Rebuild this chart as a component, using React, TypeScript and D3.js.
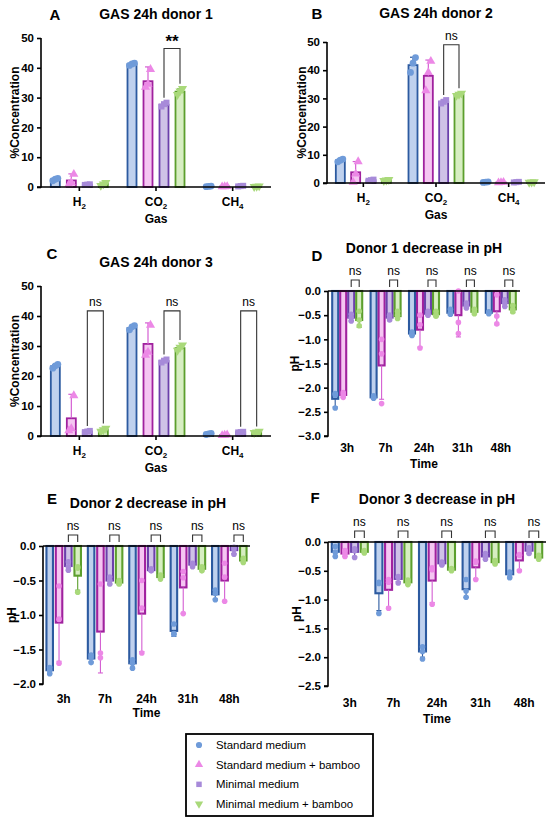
import { useEffect, useRef } from 'react';
import * as d3 from 'd3';

// ---- data ----
const SERIES = ['Standard medium', 'Standard medium + bamboo', 'Minimal medium', 'Minimal medium + bamboo'];
const STROKE = ['#2c5aa0', '#a0219e', '#6b3fab', '#5c9f2d'];
const FILL = ['#bfd1ee', '#f5c6f2', '#cfc2e7', '#d7eec2'];
const POINT = ['#6f9bd9', '#ec88e6', '#a78ad9', '#a9d97a'];
const ERR = ['#2c5aa0', '#d45ed2', '#6b3fab', '#5c9f2d'];

const GASES = ['H2', 'CO2', 'CH4'];
const GAS_TICKS = [0, 10, 20, 30, 40, 50];
const TIMES = ['3h', '7h', '24h', '31h', '48h'];

// gas panels: [series][gas]
const GAS1_MEAN = [[2.5, 41.2, 0.2], [2.2, 35.5, 0.15], [0.8, 27.6, 0.3], [1.0, 32.0, 0.2]];
const GAS1_SD = [[0.4, 0.4, 0.05], [2.2, 4.8, 0.05], [0.1, 0.6, 0.05], [0.5, 0.9, 0.05]];
const GAS1_PTS = [
  [[2.1, 2.6, 2.9], [40.8, 41.3, 41.6], [0.1, 0.2, 0.3]],
  [[0.8, 1.5, 4.3], [33.5, 34.5, 39.5], [0.1, 0.15, 0.2]],
  [[0.7, 0.8, 0.9], [27.0, 27.8, 28.3], [0.2, 0.3, 0.4]],
  [[0.5, 1.0, 1.5], [31.0, 32.2, 33.0], [0.1, 0.2, 0.3]],
];
const GAS1_SIG = [{ gas: 'CO2', a: 2, b: 3, top: 46.5, label: '**' }];

const GAS2_MEAN = [[8.0, 41.8, 0.3], [3.8, 38.0, 0.2], [1.0, 28.8, 0.3], [1.0, 31.4, 0.3]];
const GAS2_SD = [[0.5, 2.8, 0.05], [3.8, 5.6, 0.05], [0.2, 0.6, 0.05], [0.2, 0.4, 0.05]];
const GAS2_PTS = [
  [[7.5, 8.1, 8.5], [39.2, 42.5, 44.5], [0.2, 0.3, 0.4]],
  [[0.3, 3.2, 7.6], [32.8, 39.2, 43.2], [0.1, 0.2, 0.3]],
  [[0.8, 1.0, 1.2], [28.2, 28.8, 29.4], [0.2, 0.3, 0.4]],
  [[0.8, 1.0, 1.2], [31.0, 31.4, 31.8], [0.2, 0.3, 0.4]],
];
const GAS2_SIG = [{ gas: 'CO2', a: 2, b: 3, top: 49.0, label: 'ns' }];

const GAS3_MEAN = [[23.2, 36.0, 0.7], [5.9, 30.7, 0.3], [1.5, 25.0, 1.3], [2.0, 29.3, 1.3]];
const GAS3_SD = [[0.6, 0.6, 0.2], [8.0, 7.0, 0.1], [0.2, 0.5, 0.1], [0.5, 0.8, 0.2]];
const GAS3_PTS = [
  [[22.6, 23.4, 23.9], [35.4, 36.4, 36.8], [0.5, 0.7, 0.9]],
  [[1.8, 2.5, 13.5], [27.0, 28.0, 37.0], [0.2, 0.3, 0.4]],
  [[1.3, 1.5, 1.7], [24.5, 25.1, 25.5], [1.2, 1.3, 1.4]],
  [[1.5, 2.0, 2.5], [28.5, 29.5, 30.3], [1.1, 1.3, 1.5]],
];
const GAS3_SIG = [
  { gas: 'H2', a: 2, b: 3, top: 41.7, label: 'ns' },
  { gas: 'CO2', a: 2, b: 3, top: 41.7, label: 'ns' },
  { gas: 'CH4', a: 2, b: 3, top: 41.7, label: 'ns' },
];

// pH panels: [series][time]
const PH1_MEAN = [
  [-2.23, -2.2, -0.88, -0.45, -0.45],
  [-2.15, -1.54, -0.8, -0.5, -0.42],
  [-0.55, -0.55, -0.47, -0.3, -0.25],
  [-0.6, -0.52, -0.48, -0.43, -0.38],
];
const PH1_SD = [
  [0.17, 0.03, 0.04, 0.05, 0.02],
  [0.05, 0.7, 0.36, 0.45, 0.28],
  [0.07, 0.05, 0.04, 0.05, 0.07],
  [0.15, 0.07, 0.05, 0.05, 0.07],
];
const PH1_PTS = [
  [[-2.12, -2.15, -2.42], [-2.17, -2.2, -2.22], [-0.85, -0.9, -0.92], [-0.38, -0.45, -0.48], [-0.43, -0.45, -0.47]],
  [[-2.1, -2.15, -2.2], [-1.0, -1.3, -2.33], [-0.5, -0.7, -1.18], [0.0, -0.65, -0.88], [-0.08, -0.52, -0.68]],
  [[-0.48, -0.55, -0.62], [-0.5, -0.55, -0.6], [-0.42, -0.47, -0.5], [-0.25, -0.3, -0.35], [-0.18, -0.25, -0.32]],
  [[-0.42, -0.6, -0.72], [-0.42, -0.5, -0.57], [-0.42, -0.48, -0.52], [-0.38, -0.43, -0.47], [-0.3, -0.38, -0.43]],
];

const PH2_MEAN = [
  [-1.8, -1.63, -1.7, -1.23, -0.7],
  [-1.11, -1.24, -0.98, -0.6, -0.5],
  [-0.29, -0.5, -0.35, -0.27, -0.06],
  [-0.43, -0.53, -0.45, -0.33, -0.21],
];
const PH2_SD = [
  [0.05, 0.05, 0.06, 0.08, 0.07],
  [0.56, 0.6, 0.55, 0.38, 0.3],
  [0.06, 0.05, 0.02, 0.03, 0.05],
  [0.21, 0.03, 0.03, 0.03, 0.03],
];
const PH2_PTS = [
  [[-1.76, -1.8, -1.85], [-1.58, -1.62, -1.69], [-1.65, -1.7, -1.77], [-1.13, -1.27, -1.28], [-0.64, -0.69, -0.78]],
  [[-0.58, -1.06, -1.7], [-0.55, -1.55, -1.62], [-0.5, -0.9, -1.55], [-0.37, -0.46, -0.98], [-0.25, -0.45, -0.8]],
  [[-0.23, -0.3, -0.35], [-0.45, -0.5, -0.55], [-0.33, -0.35, -0.36], [-0.25, -0.27, -0.3], [-0.02, -0.05, -0.12]],
  [[-0.3, -0.32, -0.67], [-0.5, -0.53, -0.55], [-0.42, -0.45, -0.48], [-0.3, -0.33, -0.36], [-0.18, -0.2, -0.24]],
];

const PH3_MEAN = [
  [-0.17, -0.89, -1.9, -0.82, -0.56],
  [-0.2, -0.83, -0.67, -0.44, -0.32],
  [-0.17, -0.64, -0.37, -0.25, -0.15],
  [-0.17, -0.7, -0.48, -0.35, -0.27],
];
const PH3_SD = [
  [0.08, 0.3, 0.1, 0.14, 0.05],
  [0.05, 0.3, 0.38, 0.2, 0.16],
  [0.08, 0.05, 0.03, 0.05, 0.05],
  [0.02, 0.04, 0.02, 0.03, 0.03],
];
const PH3_PTS = [
  [[-0.08, -0.18, -0.25], [-0.7, -0.72, -1.24], [-1.82, -1.9, -2.03], [-0.65, -0.85, -0.96], [-0.52, -0.55, -0.62]],
  [[-0.15, -0.2, -0.25], [-0.65, -0.7, -1.15], [-0.45, -0.48, -1.08], [-0.33, -0.35, -0.65], [-0.22, -0.23, -0.5]],
  [[-0.12, -0.15, -0.27], [-0.6, -0.62, -0.71], [-0.35, -0.38, -0.4], [-0.2, -0.25, -0.3], [-0.1, -0.15, -0.2]],
  [[-0.15, -0.17, -0.19], [-0.66, -0.7, -0.74], [-0.46, -0.48, -0.5], [-0.32, -0.35, -0.38], [-0.23, -0.27, -0.3]],
];
const PH_SIG = ['ns', 'ns', 'ns', 'ns', 'ns'];

const FONT = '"Liberation Sans", Arial, Helvetica, sans-serif';
type Sel = d3.Selection<SVGGElement, unknown, null, undefined>;

function markerPath(i: number, size: number) {
  const types = [d3.symbolCircle, d3.symbolTriangle, d3.symbolSquare, d3.symbolTriangle];
  return d3.symbol().type(types[i]).size(size)() as string;
}

function text(g: Sel, x: number, y: number, s: string, size: number, bold = true, anchor = 'middle') {
  return g.append('text').attr('x', x).attr('y', y).attr('text-anchor', anchor)
    .attr('dominant-baseline', 'central').attr('font-family', FONT)
    .attr('font-size', size).attr('font-weight', bold ? 'bold' : 'normal').attr('fill', '#000').text(s);
}

function subLabel(g: Sel, x: number, y: number, s: string) {
  const m = s.match(/^([A-Z]+)(\d)$/);
  const t = g.append('text').attr('x', x).attr('y', y).attr('text-anchor', 'middle')
    .attr('dominant-baseline', 'central').attr('font-family', FONT)
    .attr('font-size', 12).attr('font-weight', 'bold');
  t.append('tspan').text(m ? m[1] : s);
  if (m) t.append('tspan').attr('dy', 4).attr('font-size', 8).text(m[2]);
}

interface GasCfg {
  xa: number; xb: number; y0: number; y50: number; spread: number; barW: number;
  letter: string; lx: number; ly: number; title: string; tx: number; ty: number; ylx: number;
}

function drawGas(g: Sel, c: GasCfg, mean: number[][], sd: number[][], pts: number[][][], sig: any[]) {
  const y = d3.scaleLinear().domain([0, 50]).range([c.y0, c.y50]);
  const x = d3.scaleBand<string>().domain(GASES).range([c.xa, c.xb]);
  const xs = d3.scalePoint<number>().domain([0, 1, 2, 3]).range([-c.spread, c.spread]);
  const cx = (gas: string, s: number) => (x(gas) as number) + x.bandwidth() / 2 + (xs(s) as number);

  text(g, c.lx, c.ly, c.letter, 15);
  text(g, c.tx, c.ty, c.title, 14);

  SERIES.forEach((_, s) => {
    GASES.forEach((gas, gi) => {
      const m = mean[s][gi];
      const px = cx(gas, s);
      g.append('rect').attr('x', px - c.barW / 2).attr('y', y(m)).attr('width', c.barW)
        .attr('height', y(0) - y(m)).attr('fill', FILL[s]).attr('stroke', STROKE[s]).attr('stroke-width', 1.8);
      const e = y(m + sd[s][gi]);
      g.append('line').attr('x1', px).attr('x2', px).attr('y1', y(m)).attr('y2', e)
        .attr('stroke', ERR[s]).attr('stroke-width', 1.2);
      g.append('line').attr('x1', px - 3).attr('x2', px + 3).attr('y1', e).attr('y2', e)
        .attr('stroke', ERR[s]).attr('stroke-width', 1.2);
    });
  });
  SERIES.forEach((_, s) => {
    GASES.forEach((gas, gi) => {
      const px = cx(gas, s);
      pts[s][gi].forEach((v, k) => {
        g.append('path').attr('d', markerPath(s, 36))
          .attr('transform', `translate(${px + (k - 1) * 2.5},${y(v)})${s === 3 ? ' rotate(180)' : ''}`)
          .attr('fill', POINT[s]);
      });
    });
  });

  // axes
  const ax = g.append('g').attr('transform', `translate(${c.xa},0)`);
  ax.call(d3.axisLeft(y).tickValues(GAS_TICKS).tickSize(4).tickFormat(d3.format('d')) as any);
  ax.select('.domain').attr('stroke-width', 1.6).attr('d', `M-4,${c.y0}H0V${c.y50}`);
  ax.selectAll('.tick line').attr('stroke-width', 1.6);
  ax.selectAll('.tick text').attr('font-family', FONT).attr('font-size', 11.5).attr('font-weight', 'bold').attr('fill', '#000');
  g.append('line').attr('x1', c.xa).attr('x2', c.xb).attr('y1', c.y0).attr('y2', c.y0).attr('stroke', '#000').attr('stroke-width', 1.6);
  GASES.forEach((gas) => {
    const gx = (x(gas) as number) + x.bandwidth() / 2;
    g.append('line').attr('x1', gx).attr('x2', gx).attr('y1', c.y0).attr('y2', c.y0 + 4).attr('stroke', '#000').attr('stroke-width', 1.6);
    subLabel(g, gx, c.y0 + 15, gas);
  });
  text(g, (c.xa + c.xb) / 2, c.y0 + 32, 'Gas', 12);
  text(g, 0, 0, '%Concentration', 12)
    .attr('transform', `translate(${c.ylx},${(c.y0 + c.y50) / 2}) rotate(-90)`);

  // significance
  sig.forEach((b) => {
    const gi = GASES.indexOf(b.gas);
    const xa = cx(b.gas, b.a), xb = cx(b.gas, b.b);
    const foot = (s: number) => y(Math.max(mean[s][gi] + sd[s][gi], ...pts[s][gi])) - 5;
    const top = y(b.top);
    g.append('path').attr('d', `M${xa},${foot(b.a)}V${top}H${xb}V${foot(b.b)}`)
      .attr('fill', 'none').attr('stroke', '#333').attr('stroke-width', 1.1);
    if (b.label === '**') text(g, (xa + xb) / 2, top - 7, b.label, 17);
    else text(g, (xa + xb) / 2, top - 9, b.label, 12, false);
  });
}

interface PhCfg {
  xa: number; xb: number; yZero: number; yMin: number; min: number; spread: number; barW: number;
  letter: string; lx: number; ly: number; title: string; tx: number; ty: number; ylx: number;
  labDy: number; timeDy: number;
}

function drawPH(g: Sel, c: PhCfg, mean: number[][], sd: number[][], pts: number[][][]) {
  const y = d3.scaleLinear().domain([c.min, 0]).range([c.yMin, c.yZero]);
  const x = d3.scaleBand<string>().domain(TIMES).range([c.xa, c.xb]);
  const xs = d3.scalePoint<number>().domain([0, 1, 2, 3]).range([-c.spread, c.spread]);
  const cx = (t: string, s: number) => (x(t) as number) + x.bandwidth() / 2 + (xs(s) as number);

  text(g, c.lx, c.ly, c.letter, 15);
  text(g, c.tx, c.ty, c.title, 14);

  SERIES.forEach((_, s) => {
    TIMES.forEach((t, ti) => {
      const m = mean[s][ti];
      const px = cx(t, s);
      g.append('rect').attr('x', px - c.barW / 2).attr('y', y(0)).attr('width', c.barW)
        .attr('height', y(m) - y(0)).attr('fill', FILL[s]).attr('stroke', STROKE[s]).attr('stroke-width', 2.1);
      const e = y(m - sd[s][ti]);
      g.append('line').attr('x1', px).attr('x2', px).attr('y1', y(m)).attr('y2', e)
        .attr('stroke', ERR[s]).attr('stroke-width', 1.1);
      g.append('line').attr('x1', px - 2.5).attr('x2', px + 2.5).attr('y1', e).attr('y2', e)
        .attr('stroke', ERR[s]).attr('stroke-width', 1.1);
    });
  });
  SERIES.forEach((_, s) => {
    TIMES.forEach((t, ti) => {
      const px = cx(t, s);
      pts[s][ti].forEach((v) => {
        g.append('circle').attr('cx', px).attr('cy', y(v)).attr('r', 2.8).attr('fill', POINT[s]);
      });
    });
  });

  const ticks = d3.range(0, Math.round(-c.min / 0.5) + 1).map((i) => -i * 0.5);
  const ax = g.append('g').attr('transform', `translate(${c.xa},0)`);
  ax.call(d3.axisLeft(y).tickValues(ticks).tickSize(4).tickFormat((d: any) => d3.format('.1f')(d).replace('-', '\u2212')) as any);
  ax.select('.domain').attr('stroke-width', 1.6).attr('d', `M-4,${c.yMin}H0V${c.yZero}`);
  ax.selectAll('.tick line').attr('stroke-width', 1.6);
  ax.selectAll('.tick text').attr('font-family', FONT).attr('font-size', 11.5).attr('font-weight', 'bold').attr('fill', '#000');
  g.append('line').attr('x1', c.xa).attr('x2', c.xb).attr('y1', c.yZero).attr('y2', c.yZero).attr('stroke', '#000').attr('stroke-width', 1.6);
  TIMES.forEach((t) => {
    const gx = (x(t) as number) + x.bandwidth() / 2;
    text(g, gx, c.yMin + c.labDy, t, 12);
  });
  text(g, (c.xa + c.xb) / 2, c.yMin + c.timeDy, 'Time', 12);
  text(g, 0, 0, 'pH', 12).attr('transform', `translate(${c.ylx},${(c.yZero + c.yMin) / 2}) rotate(-90)`);

  TIMES.forEach((t, ti) => {
    const xa = cx(t, 2), xb = cx(t, 3);
    const top = c.yZero - 11;
    g.append('path').attr('d', `M${xa},${c.yZero - 4}V${top}H${xb}V${c.yZero - 4}`)
      .attr('fill', 'none').attr('stroke', '#333').attr('stroke-width', 1.1);
    text(g, (xa + xb) / 2, top - 9, PH_SIG[ti], 12, false);
  });
}

function drawLegend(g: Sel) {
  const lg = g.append('g') as unknown as Sel;
  lg.append('rect').attr('x', 186).attr('y', 734).attr('width', 187).attr('height', 82)
    .attr('fill', '#fff').attr('stroke', '#000').attr('stroke-width', 1.8);
  const row = d3.scalePoint<string>().domain(SERIES).range([745, 804]);
  SERIES.forEach((s, i) => {
    const ry = row(s) as number;
    lg.append('path').attr('d', markerPath(i, 30))
      .attr('transform', `translate(199,${ry})${i === 3 ? ' rotate(180)' : ''}`).attr('fill', POINT[i]);
    text(lg, 216, ry, s, 11.4, false, 'start');
  });
}

export default function App() {
  const ref = useRef<SVGSVGElement>(null);

  useEffect(() => {
    if (!ref.current) return;
    const svg = d3.select(ref.current);
    svg.selectAll('*').remove();
    const g = svg.append('g') as unknown as Sel;

    drawGas(g, { xa: 41, xb: 271, y0: 187, y50: 38, spread: 24, barW: 9, letter: 'A', lx: 55, ly: 14,
      title: 'GAS 24h donor 1', tx: 156, ty: 14, ylx: 15 }, GAS1_MEAN, GAS1_SD, GAS1_PTS, GAS1_SIG);
    drawGas(g, { xa: 327, xb: 545, y0: 183, y50: 42, spread: 23, barW: 9, letter: 'B', lx: 317, ly: 13,
      title: 'GAS 24h donor 2', tx: 436, ty: 13, ylx: 302 }, GAS2_MEAN, GAS2_SD, GAS2_PTS, GAS2_SIG);
    drawGas(g, { xa: 41, xb: 271, y0: 436, y50: 286, spread: 24, barW: 9, letter: 'C', lx: 52, ly: 253,
      title: 'GAS 24h donor 3', tx: 156, ty: 262, ylx: 15 }, GAS3_MEAN, GAS3_SD, GAS3_PTS, GAS3_SIG);

    drawPH(g, { xa: 328, xb: 520, yZero: 291, yMin: 436, min: -3, spread: 12, barW: 6, letter: 'D', lx: 317, ly: 255,
      title: 'Donor 1 decrease in pH', tx: 424, ty: 248, ylx: 295, labDy: 12, timeDy: 28 }, PH1_MEAN, PH1_SD, PH1_PTS);
    drawPH(g, { xa: 43, xb: 250, yZero: 546, yMin: 684, min: -2, spread: 14, barW: 6.5, letter: 'E', lx: 52, ly: 498,
      title: 'Donor 2 decrease in pH', tx: 148, ty: 503, ylx: 12, labDy: 15, timeDy: 29 }, PH2_MEAN, PH2_SD, PH2_PTS);
    drawPH(g, { xa: 328, xb: 546, yZero: 542, yMin: 686, min: -2.5, spread: 14.5, barW: 7, letter: 'F', lx: 315, ly: 497,
      title: 'Donor 3 decrease in pH', tx: 437, ty: 499, ylx: 297, labDy: 17, timeDy: 33 }, PH3_MEAN, PH3_SD, PH3_PTS);

    drawLegend(g);
  }, []);

  return (
    <svg ref={ref} width={550} height={820} viewBox="0 0 550 820"
      style={{ position: 'absolute', left: 0, top: 0, background: '#fff' }} />
  );
}
